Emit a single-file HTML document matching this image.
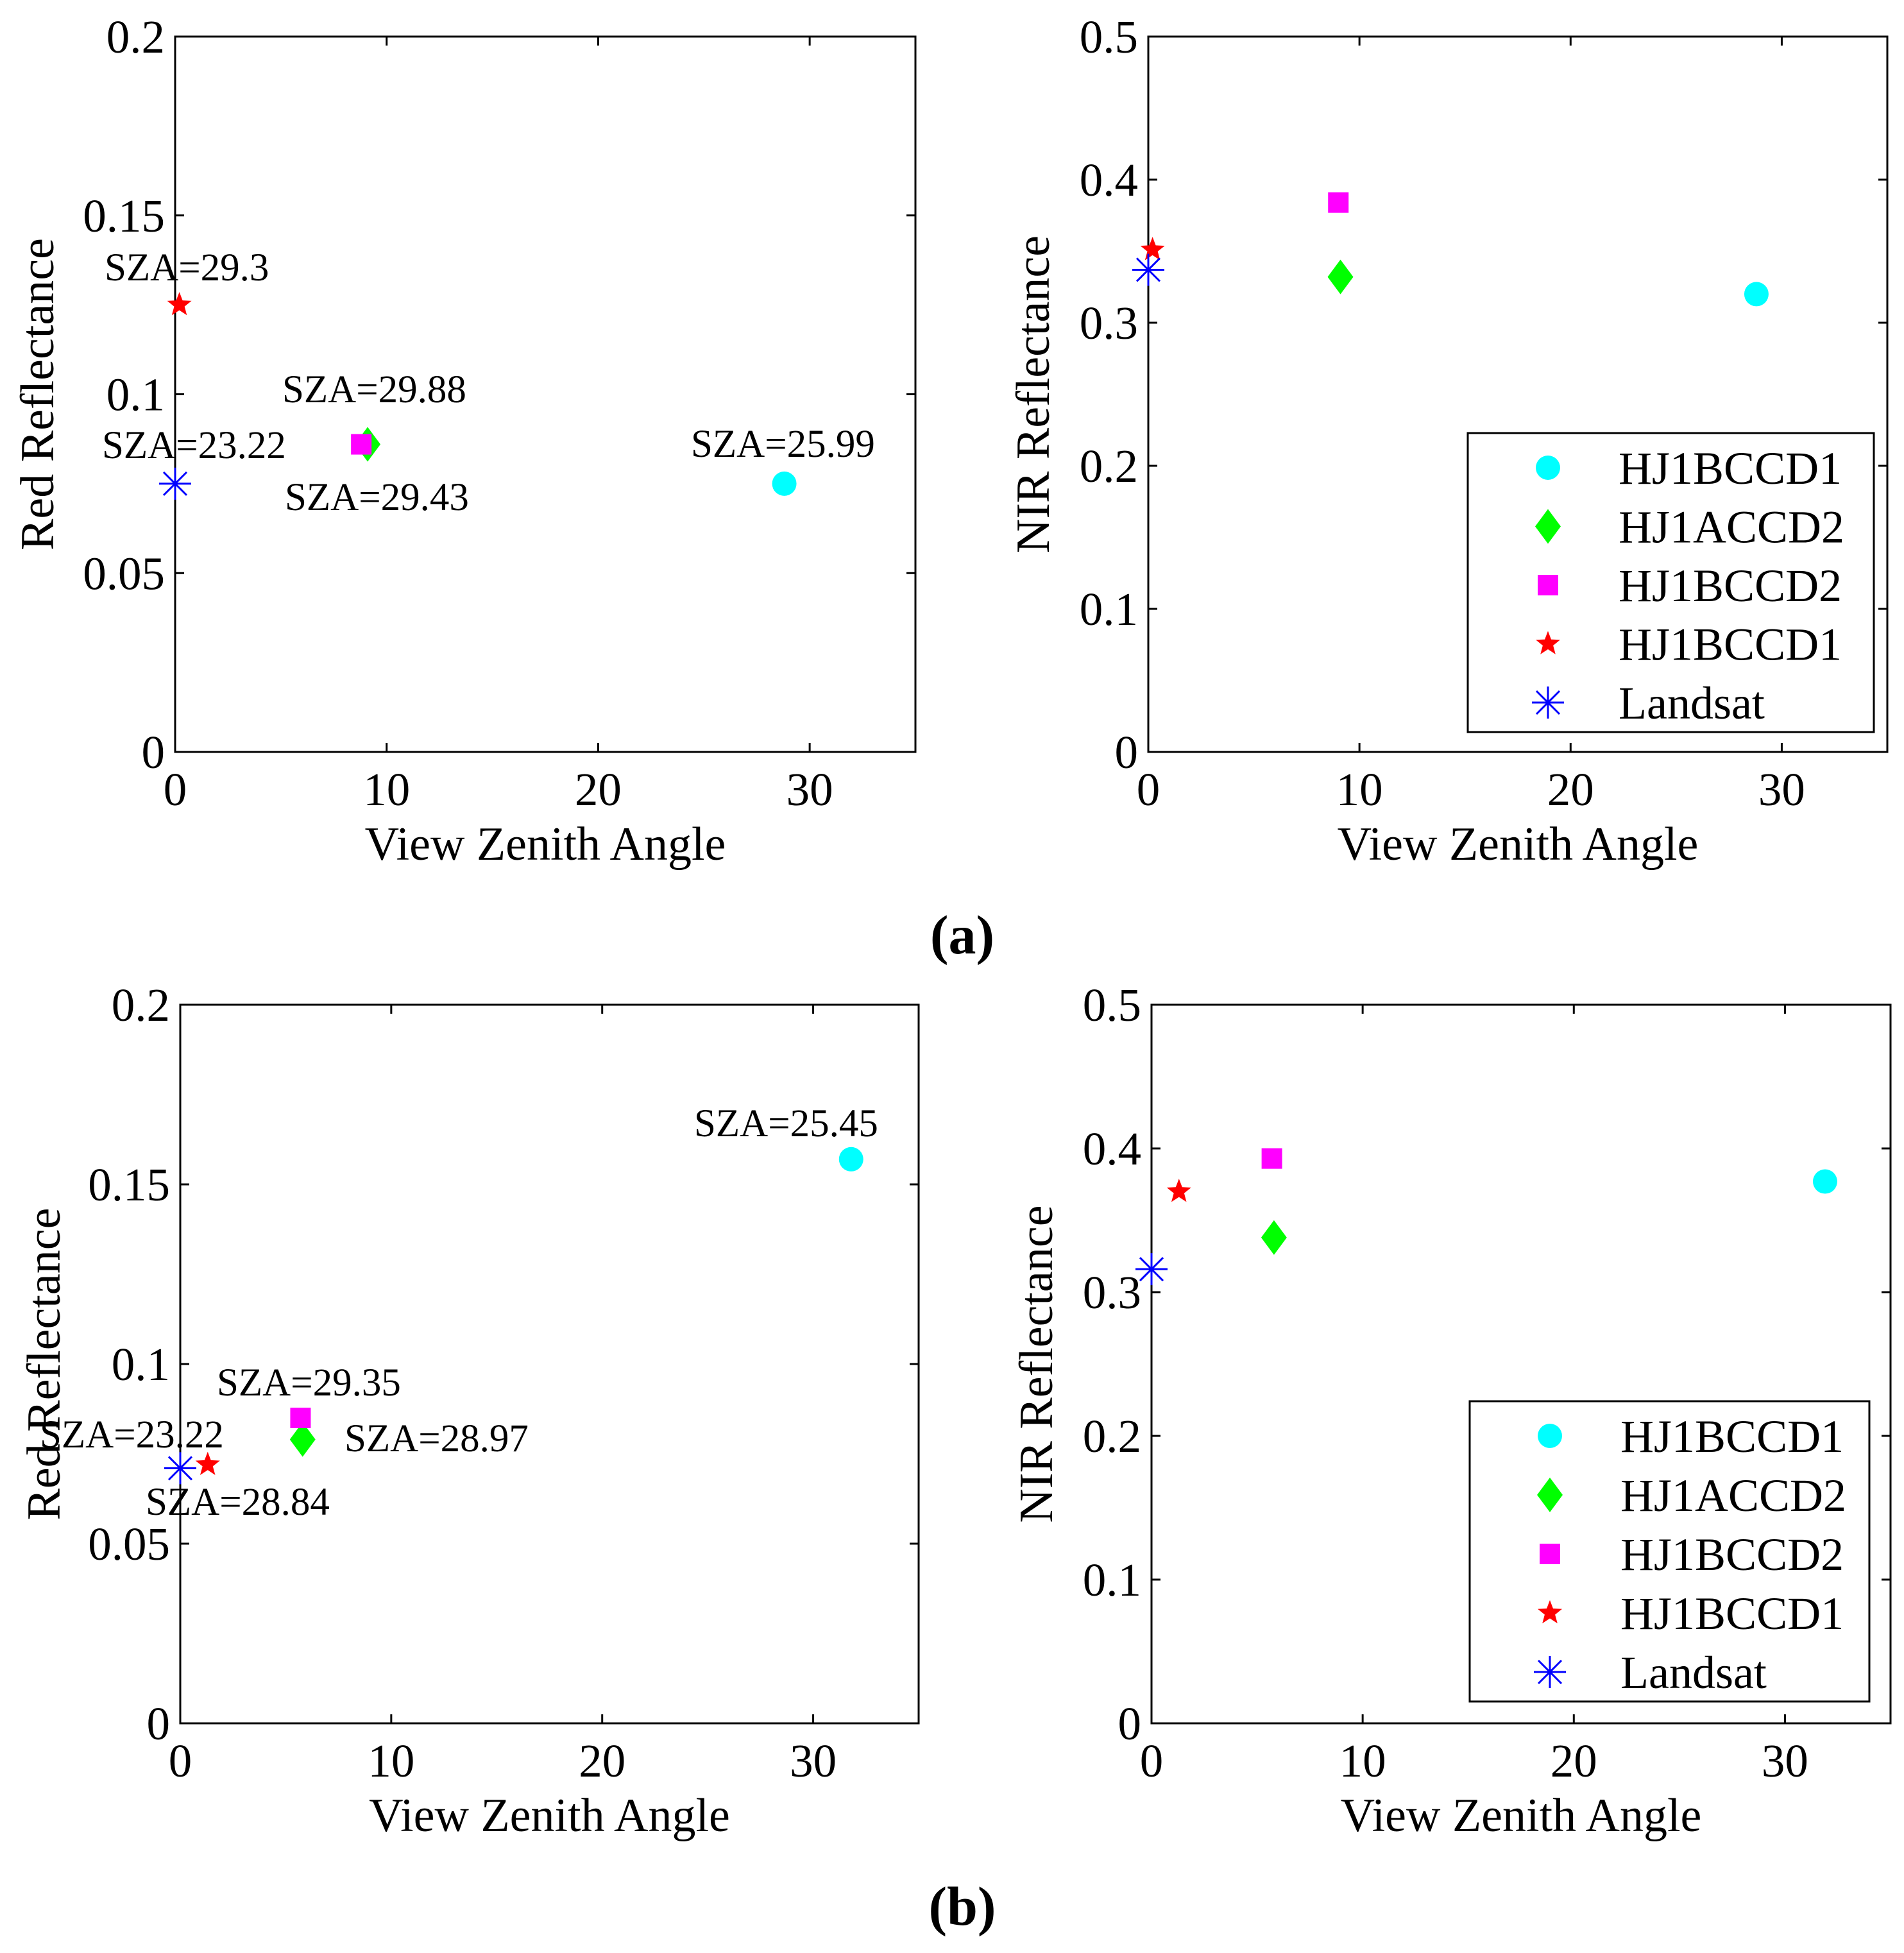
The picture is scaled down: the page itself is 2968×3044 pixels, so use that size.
<!DOCTYPE html>
<html><head><meta charset="utf-8"><style>
html,body{margin:0;padding:0;background:#fff;}
svg{display:block;font-family:"Liberation Serif",serif;}
</style></head><body>
<svg id="fig" width="2968" height="3044" viewBox="0 0 2968 3044" xmlns="http://www.w3.org/2000/svg">
<text x="1500" y="1486" font-size="86" font-weight="bold" text-anchor="middle">(a)</text>
<text x="1500" y="3000" font-size="86" font-weight="bold" text-anchor="middle">(b)</text>
</svg>
<script>
// series order: circle(HJ1BCCD1), diamond(HJ1ACCD2), square(HJ1BCCD2), star(HJ1BCCD1), asterisk(Landsat)
const seriesNames = ["HJ1BCCD1","HJ1ACCD2","HJ1BCCD2","HJ1BCCD1","Landsat"];
const aRedVZA = [28.8, 9.1, 8.8, 0.2, 0.0];
const aRedVal = [0.075, 0.086, 0.086, 0.125, 0.075];
const aNirVZA = [28.8, 9.1, 9.0, 0.2, 0.0];
const aNirVal = [0.320, 0.332, 0.384, 0.351, 0.337];
const bRedVZA = [31.8, 5.8, 5.7, 1.3, 0.0];
const bRedVal = [0.157, 0.079, 0.085, 0.072, 0.071];
const bNirVZA = [31.9, 5.8, 5.7, 1.3, 0.0];
const bNirVal = [0.377, 0.338, 0.393, 0.370, 0.316];
const xTicks = [0,10,20,30];
const redTicks = [0,0.05,0.1,0.15,0.2];
const redTickLabels = ["0","0.05","0.1","0.15","0.2"];
const nirTicks = [0,0.1,0.2,0.3,0.4,0.5];
const nirTickLabels = ["0","0.1","0.2","0.3","0.4","0.5"];
const aAnnot = ["SZA=25.99","SZA=29.88","SZA=29.43","SZA=29.3","SZA=23.22"];
const bAnnot = ["SZA=25.45","SZA=28.97","SZA=29.35","SZA=28.84","SZA=23.22"];

const NS="http://www.w3.org/2000/svg";
const svg=document.getElementById('fig');
function mk(tag,attrs,parent){const e=document.createElementNS(NS,tag);for(const k in attrs)e.setAttribute(k,attrs[k]);(parent||svg).appendChild(e);return e;}
const colors=["#00ffff","#00ff00","#ff00ff","#ff0000","#0000ff"];
const kinds=["circle","diamond","square","star","asterisk"];

function marker(g,kind,cx,cy,name){
  let el;
  if(kind==="circle") el=mk('circle',{cx:cx,cy:cy,r:19,fill:colors[0]},g);
  else if(kind==="diamond") el=mk('polygon',{points:`${cx},${cy-27} ${cx+20},${cy} ${cx},${cy+27} ${cx-20},${cy}`,fill:colors[1]},g);
  else if(kind==="square") el=mk('rect',{x:cx-16,y:cy-16,width:32,height:32,fill:colors[2]},g);
  else if(kind==="star"){let p=[];for(let i=0;i<10;i++){const r=i%2?8.5:20;const a=-Math.PI/2+i*Math.PI/5;p.push((cx+r*Math.cos(a)).toFixed(1)+","+(cy+r*Math.sin(a)).toFixed(1));}
    el=mk('polygon',{points:p.join(' '),fill:colors[3]},g);}
  else {el=mk('g',{stroke:colors[4],'stroke-width':3},g);
    mk('line',{x1:cx-25,y1:cy,x2:cx+25,y2:cy},el);mk('line',{x1:cx,y1:cy-25,x2:cx,y2:cy+25},el);
    mk('line',{x1:cx-18,y1:cy-18,x2:cx+18,y2:cy+18},el);mk('line',{x1:cx-18,y1:cy+18,x2:cx+18,y2:cy-18},el);}
  
  
}

function panel(id,L,R,T,B,ymax,ticks,tickLabels,xs,ys,ylab,ylabOff,annots,annotPos,legend){
  const g=mk('g',{});
  
  
  const X=v=>L+(v/35)*(R-L), Y=v=>B-(v/ymax)*(B-T);
  const box=mk('rect',{x:L,y:T,width:R-L,height:B-T,fill:'none',stroke:'#000','stroke-width':3},g);
  
  
  xTicks.forEach(t=>{const x=X(t);
    mk('line',{x1:x,y1:B,x2:x,y2:B-14,stroke:'#000','stroke-width':3},g);
    mk('line',{x1:x,y1:T,x2:x,y2:T+14,stroke:'#000','stroke-width':3},g);
    const tx=mk('text',{x:x,y:B+83,'font-size':73,'text-anchor':'middle'},g);tx.textContent=t;
    
    });
  ticks.forEach((t,i)=>{const y=Y(t);
    mk('line',{x1:L,y1:y,x2:L+14,y2:y,stroke:'#000','stroke-width':3},g);
    mk('line',{x1:R,y1:y,x2:R-14,y2:y,stroke:'#000','stroke-width':3},g);
    const ty=mk('text',{x:L-16,y:y+25,'font-size':73,'text-anchor':'end'},g);ty.textContent=tickLabels[i];
    
    });
  const xl=mk('text',{x:(L+R)/2,y:B+168,'font-size':74,'text-anchor':'middle'},g);xl.textContent="View Zenith Angle";
  
  
  const yc=(T+B)/2, yx=L-ylabOff;
  const yl=mk('text',{x:yx,y:yc,'font-size':74,'text-anchor':'middle',transform:`rotate(-90 ${yx} ${yc})`,dy:25},g);yl.textContent=ylab;
  
  
  xs.forEach((v,i)=>marker(g,kinds[i],X(v),Y(ys[i]),'point-'+kinds[i]));
  if(annots){annots.forEach((a,i)=>{const t=mk('text',{x:annotPos[i][0],y:annotPos[i][1],'font-size':61},g);t.textContent=a;
    
    });}
  if(legend){const [lx,ly,lw,lh]=legend;
    const lg=mk('g',{},g);
    
    
    mk('rect',{x:lx,y:ly,width:lw,height:lh,fill:'#fff',stroke:'#000','stroke-width':3},lg);
    const step=(lh-100)/4;
    seriesNames.forEach((n,i)=>{const cy=ly+54+i*step;
      marker(lg,kinds[i],lx+125,cy,'legend-marker-'+kinds[i]);
      const t=mk('text',{x:lx+235,y:cy+25,'font-size':72},lg);t.textContent=n;
      
      });}
}
panel('panel-a-red',273,1427,57,1172,0.2,redTicks,redTickLabels,aRedVZA,aRedVal,"Red Reflectance",215,aAnnot,
  [[1077,712],[440,627],[444,795],[163,437],[159,714]],null);
panel('panel-a-nir',1790,2942,57,1172,0.5,nirTicks,nirTickLabels,aNirVZA,aNirVal,"NIR Reflectance",180,null,null,[2288,675,633,466]);
panel('panel-b-red',281,1432,1566,2686,0.2,redTicks,redTickLabels,bRedVZA,bRedVal,"Red Reflectance",213,bAnnot,
  [[1082,1771],[537,2262],[338,2175],[227,2361],[62,2256]],null);
panel('panel-b-nir',1795,2947,1566,2686,0.5,nirTicks,nirTickLabels,bNirVZA,bNirVal,"NIR Reflectance",180,null,null,[2291,2184,623,468]);
</script>
</body></html>
